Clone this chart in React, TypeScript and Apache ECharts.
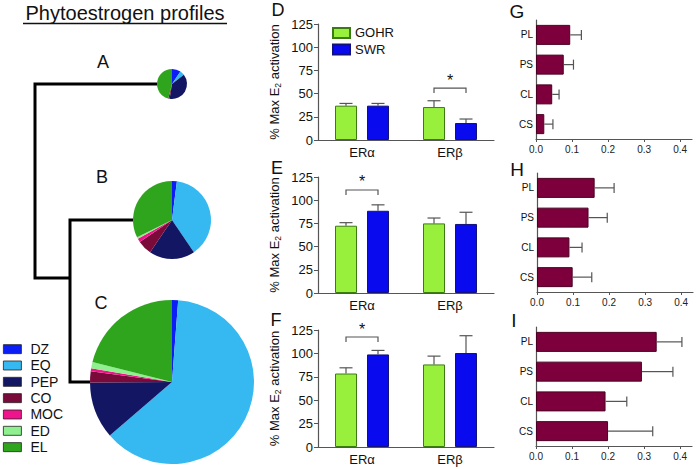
import React, { useEffect, useRef } from 'react';
import * as echarts from 'echarts';

const FONT = '"Liberation Sans", Arial, Helvetica, sans-serif';

// ---- Pie data (phytoestrogen profiles, % of total) ----
const pieNames = ['DZ', 'EQ', 'PEP', 'CO', 'MOC', 'ED', 'EL'];
const pieColors = ['#0a1ef5', '#35b9f0', '#131763', '#7a0a3a', '#f0148c', '#8ef08e', '#2fa51e'];
const pieA = [9.5, 5, 38, 1.5, 0, 0, 46];
const pieB = [2, 38.5, 19, 6, 1.5, 0.7, 32.3];
const pieC = [1.2, 62.5, 11.2, 2.2, 0.6, 1.2, 21.1];

// ---- Receptor activation panels D, E, F ----
const erCats = ['ERα', 'ERβ'];
const groupNames = ['GOHR', 'SWR'];
const dGohr = [37, 35.5];
const dGohrErr = [39.4, 42.3];
const dSwr = [37, 18.3];
const dSwrErr = [39.4, 22.6];
const eGohr = [72.5, 75];
const eGohrErr = [75.8, 80.8];
const eSwr = [88.6, 74.4];
const eSwrErr = [95, 87];
const fGohr = [78.5, 88.2];
const fGohrErr = [84.6, 97.1];
const fSwr = [98.9, 100.4];
const fSwrErr = [103.2, 118.9];
const sigD = [1, 56];
const sigE = [0, 111];
const sigF = [0, 117.5];
const yTicksMax = 125;

// ---- Panels G, H, I ----
const hCats = ['PL', 'PS', 'CL', 'CS'];
const gVals = [0.095, 0.077, 0.045, 0.023];
const gErr = [0.126, 0.104, 0.064, 0.047];
const hVals = [0.16, 0.143, 0.09, 0.099];
const hErr = [0.214, 0.195, 0.125, 0.152];
const iVals = [0.335, 0.294, 0.193, 0.2];
const iErr = [0.405, 0.38, 0.252, 0.324];
const hTickValues = [0, 0.1, 0.2, 0.3, 0.4];

const GOHR_COLOR = '#99f03c';
const GOHR_BORDER = '#3c7a14';
const SWR_COLOR = '#0a0aef';
const SWR_BORDER = '#12127a';
const MAROON = '#7d003c';
const MAROON_BORDER = '#4a0022';
const AXIS = '#555';

const BAR_W = 22;
const BAR_GAP_PX = 10;
const OFF = (BAR_W + BAR_GAP_PX) / 2;

function buildOption() {
  const vGrids = [
    { left: 318, top: 24, width: 176, height: 116 },
    { left: 318, top: 177, width: 176, height: 116 },
    { left: 318, top: 330, width: 176, height: 117 },
  ];
  const hGrids = [
    { left: 536, top: 20, width: 156, height: 119 },
    { left: 537, top: 173, width: 156, height: 119 },
    { left: 536, top: 327, width: 156, height: 119 },
  ];
  const vPanels = [
    { g: dGohr, ge: dGohrErr, s: dSwr, se: dSwrErr, sig: sigD },
    { g: eGohr, ge: eGohrErr, s: eSwr, se: eSwrErr, sig: sigE },
    { g: fGohr, ge: fGohrErr, s: fSwr, se: fSwrErr, sig: sigF },
  ];
  const hPanels = [
    { v: gVals, e: gErr },
    { v: hVals, e: hErr },
    { v: iVals, e: iErr },
  ];

  const xAxis: any[] = [];
  const yAxis: any[] = [];
  const series: any[] = [];

  vPanels.forEach((p, k) => {
    xAxis.push({
      type: 'category',
      gridIndex: k,
      data: erCats,
      axisLine: { lineStyle: { color: AXIS, width: 1.2 } },
      axisTick: { alignWithLabel: true, length: 4, lineStyle: { color: AXIS } },
      axisLabel: { fontSize: 13, color: '#111', fontFamily: FONT, margin: 6 },
    });
    yAxis.push({
      type: 'value',
      gridIndex: k,
      min: 0,
      max: yTicksMax,
      interval: 25,
      splitLine: { show: false },
      axisLine: { show: true, lineStyle: { color: AXIS, width: 1.2 } },
      axisTick: { show: true, length: 4, lineStyle: { color: AXIS } },
      axisLabel: { show: true, fontSize: 13, color: '#111', fontFamily: FONT, margin: 5 },
      name: '% Max E{sub|2} activation',
      nameLocation: 'middle',
      nameGap: 36,
      nameMoveOverlap: false,
      nameTextStyle: {
        fontSize: 13,
        color: '#111',
        fontFamily: FONT,
        lineHeight: 15,
        rich: { sub: { fontSize: 8.5, lineHeight: 8.5, verticalAlign: 'bottom', fontFamily: FONT, color: '#111' } },
      },
    });
    series.push({
      type: 'bar',
      name: groupNames[0],
      xAxisIndex: k,
      yAxisIndex: k,
      data: p.g,
      barWidth: BAR_W,
      barGap: `${(BAR_GAP_PX / BAR_W) * 100}%`,
      itemStyle: { color: GOHR_COLOR, borderColor: GOHR_BORDER, borderWidth: 1 },
      silent: true,
    });
    series.push({
      type: 'bar',
      name: groupNames[1],
      xAxisIndex: k,
      yAxisIndex: k,
      data: p.s,
      barWidth: BAR_W,
      barGap: `${(BAR_GAP_PX / BAR_W) * 100}%`,
      itemStyle: { color: SWR_COLOR, borderColor: SWR_BORDER, borderWidth: 1 },
      silent: true,
    });
    const errData: number[][] = [];
    erCats.forEach((_, i) => {
      errData.push([i, p.g[i], p.ge[i], -1]);
      errData.push([i, p.s[i], p.se[i], 1]);
    });
    series.push({
      type: 'custom',
      xAxisIndex: k,
      yAxisIndex: k,
      z: 5,
      silent: true,
      data: errData,
      renderItem: (params: any, api: any) => {
        const base = api.coord([api.value(0), api.value(1)]);
        const top = api.coord([api.value(0), api.value(2)]);
        const x = base[0] + api.value(3) * OFF;
        const st = { stroke: AXIS, lineWidth: 1.2 };
        return {
          type: 'group',
          children: [
            { type: 'line', shape: { x1: x, y1: base[1], x2: x, y2: top[1] }, style: st },
            { type: 'line', shape: { x1: x - 6.5, y1: top[1], x2: x + 6.5, y2: top[1] }, style: st },
          ],
        };
      },
    });
    series.push({
      type: 'custom',
      xAxisIndex: k,
      yAxisIndex: k,
      z: 5,
      silent: true,
      data: [p.sig],
      renderItem: (params: any, api: any) => {
        const c = api.coord([api.value(0), api.value(1)]);
        const x1 = c[0] - OFF;
        const x2 = c[0] + OFF;
        const y = c[1];
        return {
          type: 'group',
          children: [
            {
              type: 'polyline',
              shape: { points: [[x1, y + 5], [x1, y], [x2, y], [x2, y + 5]] },
              style: { stroke: AXIS, lineWidth: 1.2, fill: 'none' },
            },
            {
              type: 'text',
              style: {
                text: '*',
                x: c[0],
                y: y - 8,
                align: 'center',
                verticalAlign: 'middle',
                fontSize: 16,
                fontFamily: FONT,
                fill: '#111',
              },
            },
          ],
        };
      },
    });
  });

  hPanels.forEach((p, j) => {
    const k = j + 3;
    xAxis.push({
      type: 'value',
      gridIndex: k,
      min: 0,
      max: 0.433,
      splitLine: { show: false },
      axisLine: { show: true, lineStyle: { color: AXIS, width: 1.2 } },
      axisTick: { show: true, length: 3, customValues: hTickValues, lineStyle: { color: AXIS } },
      axisLabel: {
        customValues: hTickValues,
        formatter: (v: number) => v.toFixed(1),
        fontSize: 10,
        color: '#222',
        fontFamily: FONT,
        margin: 5,
      },
    });
    yAxis.push({
      type: 'category',
      gridIndex: k,
      inverse: true,
      data: hCats,
      axisLine: { lineStyle: { color: AXIS, width: 1.2 } },
      axisTick: { alignWithLabel: true, length: 3, lineStyle: { color: AXIS } },
      axisLabel: { fontSize: 10, color: '#111', fontFamily: FONT, margin: 3 },
    });
    series.push({
      type: 'bar',
      xAxisIndex: k,
      yAxisIndex: k,
      data: p.v,
      barWidth: 20,
      itemStyle: { color: MAROON, borderColor: MAROON_BORDER, borderWidth: 1 },
      silent: true,
    });
    series.push({
      type: 'custom',
      xAxisIndex: k,
      yAxisIndex: k,
      z: 5,
      silent: true,
      data: p.v.map((v, i) => [v, i, p.e[i]]),
      renderItem: (params: any, api: any) => {
        const a = api.coord([api.value(0), api.value(1)]);
        const b = api.coord([api.value(2), api.value(1)]);
        const st = { stroke: AXIS, lineWidth: 1.2 };
        return {
          type: 'group',
          children: [
            { type: 'line', shape: { x1: a[0], y1: a[1], x2: b[0], y2: b[1] }, style: st },
            { type: 'line', shape: { x1: b[0], y1: b[1] - 5, x2: b[0], y2: b[1] + 5 }, style: st },
          ],
        };
      },
    });
  });

  const pies = [
    { vals: pieA, center: [172, 84], r: 15 },
    { vals: pieB, center: [172, 220], r: 39 },
    { vals: pieC, center: [172, 382], r: 82 },
  ];
  pies.forEach((p) => {
    series.push({
      type: 'pie',
      center: p.center,
      radius: p.r,
      startAngle: 90,
      clockwise: true,
      silent: true,
      label: { show: false },
      labelLine: { show: false },
      emphasis: { disabled: true },
      itemStyle: { borderWidth: 0 },
      data: pieNames.map((n, i) => ({ name: n, value: p.vals[i], itemStyle: { color: pieColors[i] } })),
    });
  });

  const letter = (t: string, x: number, y: number, size: number) => ({
    type: 'text',
    x,
    y,
    z: 10,
    style: { text: t, fontSize: size, fontFamily: FONT, fill: '#111', align: 'center', verticalAlign: 'middle' },
  });

  const treeStyle = { stroke: '#000', lineWidth: 3, fill: 'none' };
  const graphic: any[] = [
    {
      type: 'text',
      x: 125,
      y: 12.5,
      style: { text: 'Phytoestrogen profiles', fontSize: 20, fontFamily: FONT, fill: '#111', align: 'center', verticalAlign: 'middle' },
    },
    { type: 'line', shape: { x1: 23, y1: 23.5, x2: 227, y2: 23.5 }, style: { stroke: '#111', lineWidth: 1.5 } },
    {
      type: 'polyline',
      shape: { points: [[pies[0].center[0] - pies[0].r, pies[0].center[1]], [35, pies[0].center[1]], [35, 278], [70, 278]] },
      style: treeStyle,
    },
    {
      type: 'polyline',
      shape: {
        points: [
          [pies[1].center[0] - pies[1].r, pies[1].center[1]],
          [70, pies[1].center[1]],
          [70, pies[2].center[1]],
          [pies[2].center[0] - pies[2].r, pies[2].center[1]],
        ],
      },
      style: treeStyle,
    },
    letter('A', 103, 62, 18),
    letter('B', 102, 177, 18),
    letter('C', 101, 303, 18),
    letter('D', 278, 10, 18),
    letter('E', 277, 168, 18),
    letter('F', 276, 320, 18),
    letter('G', 517, 11, 19),
    letter('H', 517, 169, 19),
    letter('I', 514, 320, 19),
  ];

  return {
    animation: false,
    textStyle: { fontFamily: FONT },
    grid: [...vGrids, ...hGrids],
    xAxis,
    yAxis,
    legend: [
      {
        data: pieNames,
        orient: 'vertical',
        left: 3,
        top: 341,
        padding: 0,
        icon: 'rect',
        itemWidth: 18,
        itemHeight: 9,
        itemGap: 0,
        selectedMode: false,
        itemStyle: { borderColor: '#222', borderWidth: 0.8 },
        textStyle: { fontSize: 14, lineHeight: 16.33, color: '#111', fontFamily: FONT, padding: [0, 0, 0, 4] },
      },
      {
        data: groupNames,
        orient: 'vertical',
        left: 332,
        top: 24.7,
        padding: 0,
        icon: 'rect',
        itemWidth: 17,
        itemHeight: 10,
        itemGap: 0,
        selectedMode: false,
        textStyle: { fontSize: 13, lineHeight: 16.5, color: '#111', fontFamily: FONT },
      },
    ],
    series,
    graphic,
  };
}

export default function App() {
  const ref = useRef<HTMLDivElement>(null);
  useEffect(() => {
    document.body.style.margin = '0';
    const chart = echarts.init(ref.current!, null, { renderer: 'svg' });
    chart.setOption(buildOption() as any);
    return () => chart.dispose();
  }, []);
  return <div ref={ref} style={{ width: 696, height: 469 }} />;
}
